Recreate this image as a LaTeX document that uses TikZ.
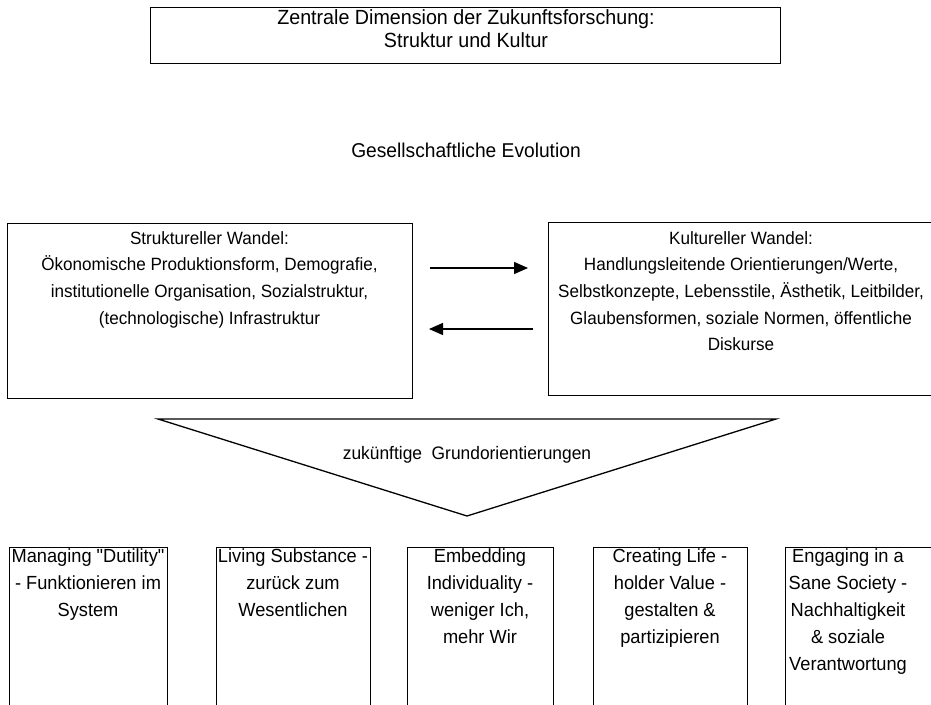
\documentclass[tikz,border=0pt]{standalone}
\usepackage{fontspec}
\setmainfont{Liberation Sans}[FakeStretch=0.96]
\newfontfamily\plainqfont{Liberation Sans}[FakeStretch=0.96]
\usetikzlibrary{arrows.meta}
\begin{document}
\begin{tikzpicture}[x=1pt,y=-1pt,
  box/.style={draw=black,line width=1.3pt,rectangle,inner sep=0pt,anchor=north west},
  txt/.style={align=center,inner sep=0pt,anchor=north,font=\fontsize{17.8}{26.7}\selectfont},
  btxt/.style={align=center,inner sep=0pt,anchor=north,font=\fontsize{19}{26.8}\selectfont},
  arr/.style={line width=1.3pt,-{Triangle[length=14pt,width=12pt]}}]
\useasboundingbox (0,0) rectangle (931,704);
% top box
\node[box,minimum width=630pt,minimum height=56pt] (top) at (150,7) {};
\node[txt,font=\fontsize{20.5}{23.5}\selectfont] (toptext) at (466,9) {Zentrale Dimension der Zukunftsforschung:\\Struktur und Kultur};
\node[txt,anchor=center,font=\fontsize{20}{24}\selectfont] (evo) at (466,150) {Gesellschaftliche Evolution};
% left and right boxes
\node[box,minimum width=405pt,minimum height=175pt] (lbox) at (7,223) {};
\node[txt] (ltext) at (209.5,231) {Struktureller Wandel:\\Ökonomische Produktionsform, Demografie,\\institutionelle Organisation, Sozialstruktur,\\(technologische) Infrastruktur};
\node[box,minimum width=386pt,minimum height=173pt] (rbox) at (548,222) {};
\node[txt] (rtext) at (741,231) {Kultureller Wandel:\\Handlungsleitende Orientierungen/Werte,\\Selbstkonzepte, Lebensstile, Ästhetik, Leitbilder,\\Glaubensformen, soziale Normen, öffentliche\\Diskurse};
% arrows
\coordinate (a1s) at (430,268);
\coordinate (a1e) at (528,268);
\coordinate (a2s) at (533,329);
\coordinate (a2e) at (429,329);
\draw[arr] (a1s) -- (a1e);
\draw[arr] (a2s) -- (a2e);
% funnel triangle
\coordinate (tl) at (158,419);
\coordinate (tr) at (776,419);
\coordinate (tb) at (467,516);
\draw[line width=1.3pt,line join=miter] (tl) -- (tr) -- (tb) -- cycle;
\node[txt,anchor=center,font=\fontsize{18.1}{24}\selectfont] (grund) at (467,455) {zukünftige\ \ Grundorientierungen};
% bottom boxes
\node[box,minimum width=158pt,minimum height=170pt] (b1) at (9,547) {};
\node[box,minimum width=154pt,minimum height=170pt] (b2) at (216,547) {};
\node[box,minimum width=146pt,minimum height=170pt] (b3) at (407,547) {};
\node[box,minimum width=154pt,minimum height=170pt] (b4) at (593,547) {};
\node[box,minimum width=160pt,minimum height=170pt] (b5) at (785,547) {};
\node[btxt] (t1) at (88,549) {Managing {\plainqfont"}Dutility{\plainqfont"}\\- Funktionieren im\\System};
\node[btxt] (t2) at (293,549) {Living Substance -\\zurück zum\\Wesentlichen};
\node[btxt] (t3) at (480,549) {Embedding\\Individuality -\\weniger Ich,\\mehr Wir};
\node[btxt] (t4) at (670,549) {Creating Life -\\holder Value -\\gestalten \&\\partizipieren};
\node[btxt] (t5) at (848,549) {Engaging in a\\Sane Society -\\Nachhaltigkeit\\\& soziale\\Verantwortung};
\end{tikzpicture}
\end{document}
